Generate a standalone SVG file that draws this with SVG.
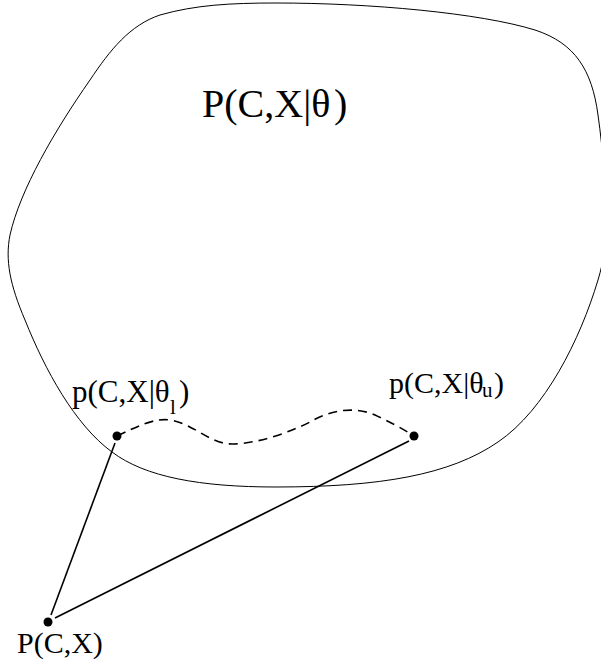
<svg xmlns="http://www.w3.org/2000/svg" width="601" height="662" viewBox="0 0 601 662">
<style>
text{font-family:"Liberation Serif","Times New Roman",serif;fill:#000}
.blob{fill:none;stroke:#000;stroke-width:1}
.ln{stroke:#000;stroke-width:1.6;fill:none}
.dash{stroke:#000;stroke-width:1.6;fill:none;stroke-dasharray:9 6}
.dot{fill:#000}
</style>
<rect width="601" height="662" fill="#fff"/>
<g id="space">
<path class="blob" d="M 276,3 C 370,3 480,13 535,30 C 575,43 592,70 598,115 C 603,150 606,190 606,220 C 606,245 604,260 598,280 C 580,340 545,410 498,442 C 450,475 380,487 276,487 C 200,487 145,477 112,452 C 75,425 45,370 25,320 C 10,285 5,260 10,235 C 20,190 55,130 90,80 C 110,50 130,25 160,15 C 195,5 230,3 276,3 Z"/>
<text x="202" y="117" font-size="40">P(C,X|θ<tspan x="334">)</tspan></text>
</g>
<g id="connectors">
<path class="dash" d="M 117,436 C 140,425 155,418 170,420 C 195,424 210,445 234,444 C 260,443 290,432 310,422 C 330,410 355,406 375,415 C 390,422 405,430 414,436"/>
<line class="ln" x1="115" y1="443" x2="51" y2="615"/>
<line class="ln" x1="409" y1="441" x2="55" y2="618"/>
</g>
<g id="theta-l">
<circle class="dot" cx="117" cy="436" r="4.5"/>
<text x="72" y="402" font-size="31">p(C,X|θ<tspan x="170" dy="12" font-size="21">l</tspan><tspan x="179" dy="-12">)</tspan></text>
</g>
<g id="theta-u">
<circle class="dot" cx="414" cy="436" r="4.5"/>
<text x="389" y="393" font-size="30">p(C,X|θ<tspan x="482" dy="4" font-size="21">u</tspan><tspan x="494" dy="-4">)</tspan></text>
</g>
<g id="true-dist">
<circle class="dot" cx="48" cy="622" r="4.5"/>
<text x="17" y="653" font-size="30">P(C,X)</text>
</g>
</svg>
